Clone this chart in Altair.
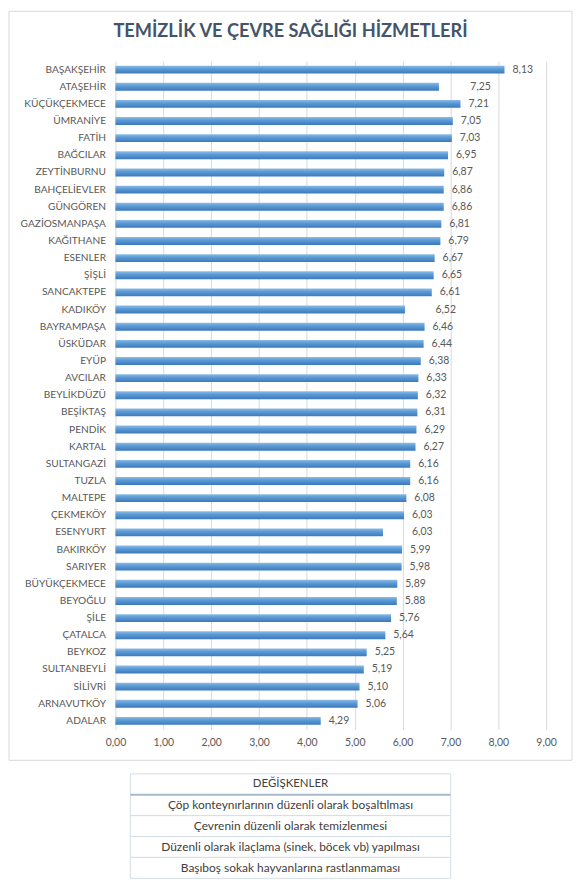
import altair as alt
import pandas as pd

chart_title = "TEMİZLİK VE ÇEVRE SAĞLIĞI HİZMETLERİ"

districts = [
    "BAŞAKŞEHİR", "ATAŞEHİR", "KÜÇÜKÇEKMECE", "ÜMRANİYE", "FATİH", "BAĞCILAR",
    "ZEYTİNBURNU", "BAHÇELİEVLER", "GÜNGÖREN", "GAZİOSMANPAŞA", "KAĞITHANE",
    "ESENLER", "ŞİŞLİ", "SANCAKTEPE", "KADIKÖY", "BAYRAMPAŞA", "ÜSKÜDAR", "EYÜP",
    "AVCILAR", "BEYLİKDÜZÜ", "BEŞİKTAŞ", "PENDİK", "KARTAL", "SULTANGAZİ", "TUZLA",
    "MALTEPE", "ÇEKMEKÖY", "ESENYURT", "BAKIRKÖY", "SARIYER", "BÜYÜKÇEKMECE",
    "BEYOĞLU", "ŞİLE", "ÇATALCA", "BEYKOZ", "SULTANBEYLİ", "SİLİVRİ", "ARNAVUTKÖY",
    "ADALAR",
]

# values printed next to the bars
printed_values = [
    8.13, 7.25, 7.21, 7.05, 7.03, 6.95, 6.87, 6.86, 6.86, 6.81, 6.79, 6.67, 6.65,
    6.61, 6.52, 6.46, 6.44, 6.38, 6.33, 6.32, 6.31, 6.29, 6.27, 6.16, 6.16, 6.08,
    6.03, 6.03, 5.99, 5.98, 5.89, 5.88, 5.76, 5.64, 5.25, 5.19, 5.10, 5.06, 4.29,
]

# bar lengths as drawn in the picture (three bars are shorter than their labels)
bar_values = [
    8.13, 6.76, 7.21, 7.05, 7.03, 6.95, 6.87, 6.86, 6.86, 6.81, 6.79, 6.67, 6.65,
    6.61, 6.05, 6.46, 6.44, 6.38, 6.33, 6.32, 6.31, 6.29, 6.27, 6.16, 6.16, 6.08,
    6.03, 5.59, 5.99, 5.98, 5.89, 5.88, 5.76, 5.64, 5.25, 5.19, 5.10, 5.06, 4.29,
]

x_ticks = [0, 1, 2, 3, 4, 5, 6, 7, 8, 9]

table_header = "DEĞİŞKENLER"
variables = [
    "Çöp konteynırlarının düzenli olarak boşaltılması",
    "Çevrenin düzenli olarak temizlenmesi",
    "Düzenli olarak ilaçlama (sinek, böcek vb) yapılması",
    "Başıboş sokak hayvanlarına rastlanmaması",
]

FONT = "Lato"
TXT = "#595959"
W, H = 433, 672

df = pd.DataFrame({"ilce": districts, "bar": bar_values, "etiket": printed_values})

yenc = alt.Y(
    "ilce:N", sort=districts, title=None,
    scale=alt.Scale(paddingInner=0.54, paddingOuter=0.27),
    axis=alt.Axis(domain=False, ticks=False, grid=False, labelFont=FONT,
                  labelFontSize=10.2, labelColor=TXT, labelPadding=10),
)

grad = alt.Gradient(
    gradient="linear", x1=0, x2=0, y1=0, y2=1,
    stops=[alt.GradientStop(color="#8DBBE6", offset=0),
           alt.GradientStop(color="#5B9BD5", offset=0.4),
           alt.GradientStop(color="#3C79BD", offset=1)],
)

bars = alt.Chart(df).mark_bar(color=grad).encode(
    x=alt.X("bar:Q", title=None,
            scale=alt.Scale(domain=[0, 9], nice=False, zero=True),
            axis=alt.Axis(values=x_ticks, domain=False, ticks=False, grid=True,
                          gridColor="#D9D9D9", gridWidth=1, labelFlush=False,
                          labelExpr="replace(format(datum.value, '.2f'), '.', ',')",
                          labelFont=FONT, labelFontSize=10.5, labelColor=TXT,
                          labelPadding=8)),
    y=yenc,
)

labels = alt.Chart(df).transform_calculate(
    lbl="replace(format(datum.etiket, '.2f'), '.', ',')"
).mark_text(align="left", baseline="middle", dx=8, font=FONT, fontSize=10.5,
            color=TXT).encode(
    x=alt.X("etiket:Q"),
    y=yenc,
    text="lbl:N",
)

plot = alt.layer(bars, labels)

one = pd.DataFrame({"t": [chart_title]})

frame = alt.Chart(one).mark_rect(fill="white", fillOpacity=0, stroke="#D9D9D9",
                                 strokeWidth=1).encode(
    x=alt.value(-107), x2=alt.value(459), y=alt.value(-50), y2=alt.value(703)
)

title = alt.Chart(one).mark_text(font=FONT, fontSize=18.3, fontWeight="bold",
                                 color="#44546A", align="center",
                                 baseline="alphabetic").encode(
    text="t:N", x=alt.value(176), y=alt.value(-24)
)

# variables table under the chart
rows = [table_header] + variables
tdf = pd.DataFrame({"satir": rows, "sira": list(range(len(rows)))})
tscale = alt.Scale(range=[716.6, 821.6], paddingInner=0, paddingOuter=0)
ty = alt.Y("sira:O", axis=None, scale=tscale)

trect = alt.Chart(tdf).mark_rect(fill="white", stroke="#D3DEE9",
                                 strokeWidth=1).encode(
    y=ty, x=alt.value(15), x2=alt.value(337))
trule = alt.Chart(tdf).transform_filter("datum.sira == 0").mark_rule(
    color="#A7BBCE", strokeWidth=2).encode(
    y=alt.Y("sira:O", bandPosition=1, axis=None, scale=tscale),
    x=alt.value(15), x2=alt.value(337))
thead = alt.Chart(tdf).transform_filter("datum.sira == 0").mark_text(
    font=FONT, fontSize=11.5, color="#404040", baseline="middle").encode(
    y=ty, text="satir:N", x=alt.value(176))
tbody = alt.Chart(tdf).transform_filter("datum.sira > 0").mark_text(
    font=FONT, fontSize=12, color="#404040", baseline="middle").encode(
    y=ty, text="satir:N", x=alt.value(176))

table = alt.layer(trect, trule, thead, tbody)

chart = alt.layer(frame, plot, title, table).resolve_scale(
    y="independent"
).properties(width=W, height=H, padding=0).configure_view(strokeWidth=0)

chart.save("out.html", embed_options={"renderer": "svg", "actions": False})
